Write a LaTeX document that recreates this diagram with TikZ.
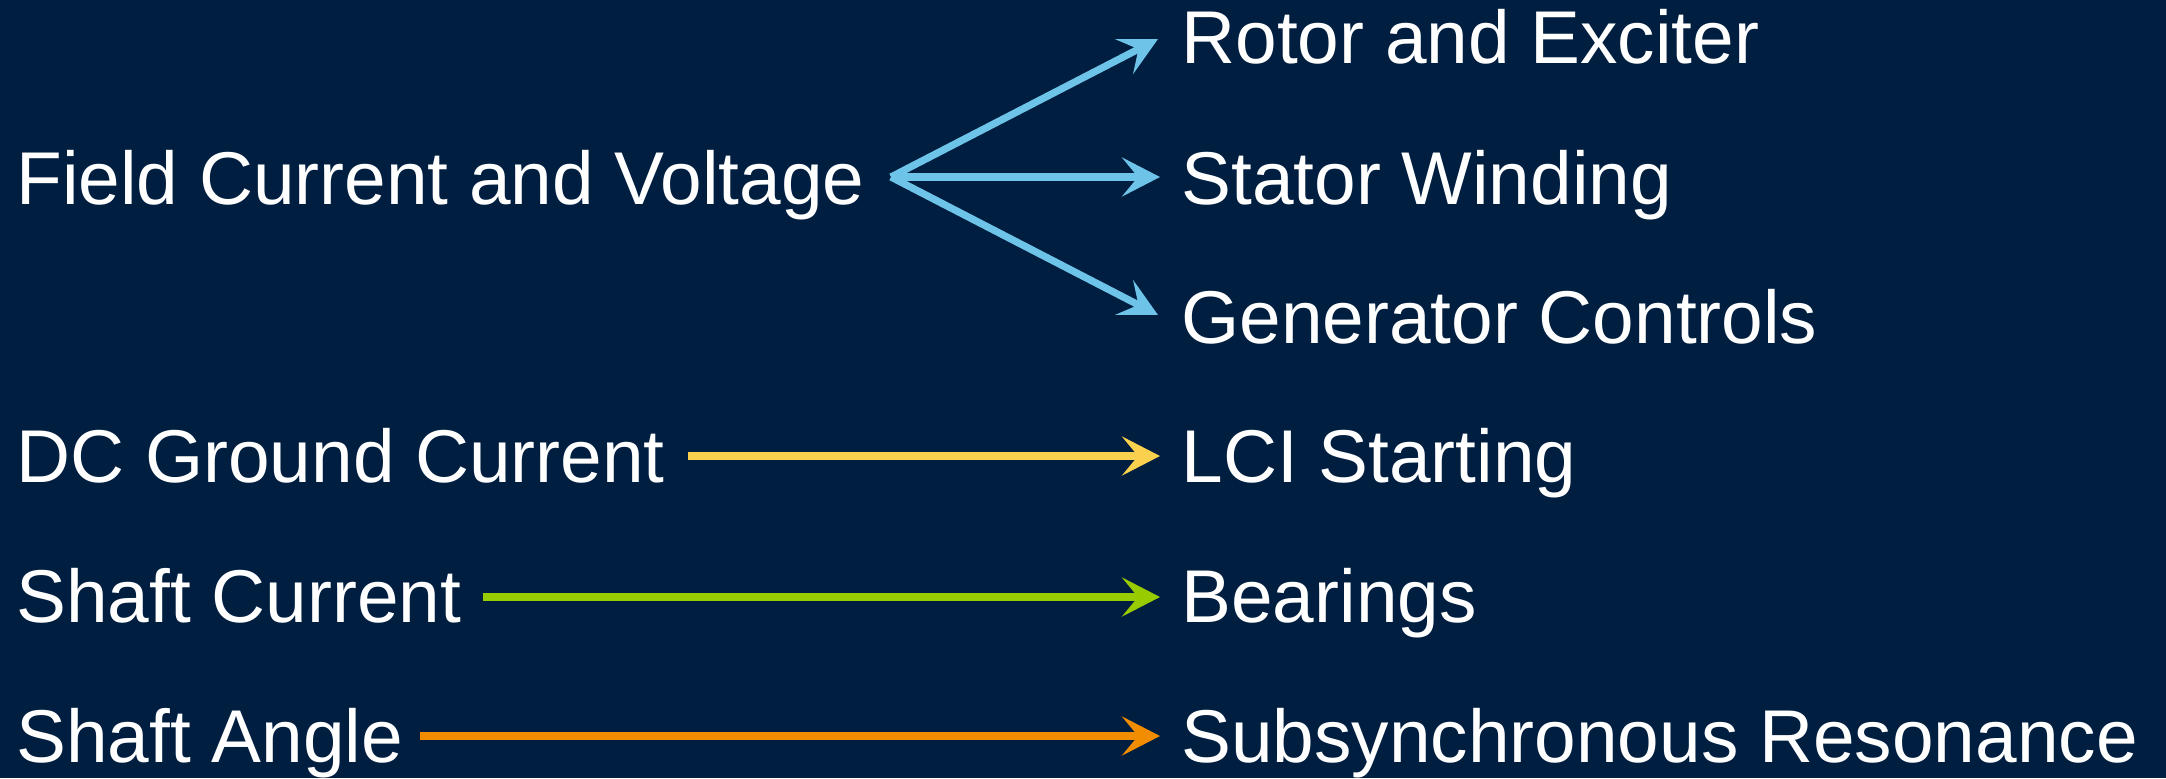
\documentclass[tikz,border=0pt]{standalone}
\usepackage{fontspec}
\setmainfont{Liberation Sans}
\usetikzlibrary{arrows.meta}
\definecolor{bg}{HTML}{001E40}
\definecolor{cblue}{HTML}{6EC4E8}
\definecolor{cyellow}{HTML}{FAD14E}
\definecolor{cgreen}{HTML}{99CC00}
\definecolor{corange}{HTML}{F28C00}
\begin{document}
\begin{tikzpicture}[x=0.5pt,y=-0.5pt,
  lbl/.style={anchor=base west,inner sep=0pt,text=white,font=\fontsize{37.4}{40}\selectfont},
  arr/.style={line width=3.6pt,-{Stealth[length=19pt,width=19.5pt,inset=8pt]}}]
\fill[bg] (0,0) rectangle (2166,778);
\useasboundingbox (0,0) rectangle (2166,778);
% left labels
\node[lbl] (field) at (16,204) {Field Current and Voltage};
\node[lbl] (dc) at (16,482) {DC Ground Current};
\node[lbl] (shc) at (16,622) {Shaft Current};
\node[lbl] (sha) at (16,762) {Shaft Angle};
% right labels
\node[lbl] (rotor) at (1181,63) {Rotor and Exciter};
\node[lbl] (stator) at (1181,204) {Stator Winding};
\node[lbl] (gen) at (1181,343) {Generator Controls};
\node[lbl] (lci) at (1181,482) {LCI Starting};
\node[lbl] (bear) at (1181,622) {Bearings};
\node[lbl] (sub) at (1181,762) {Subsynchronous Resonance};
% connector ends
\coordinate (fo) at (891,177);
\coordinate (t1) at (1158,39);
\coordinate (t2) at (1160,177);
\coordinate (t3) at (1158,315);
\coordinate (yo) at (688,456);
\coordinate (yt) at (1160,456);
\coordinate (go) at (483,597);
\coordinate (gt) at (1160,597);
\coordinate (oo) at (420,736);
\coordinate (ot) at (1160,736);
\draw[arr,cblue] (fo) -- (t1);
\draw[arr,cblue] (fo) -- (t2);
\draw[arr,cblue] (fo) -- (t3);
\draw[arr,cyellow] (yo) -- (yt);
\draw[arr,cgreen] (go) -- (gt);
\draw[arr,corange] (oo) -- (ot);
\end{tikzpicture}
\end{document}
